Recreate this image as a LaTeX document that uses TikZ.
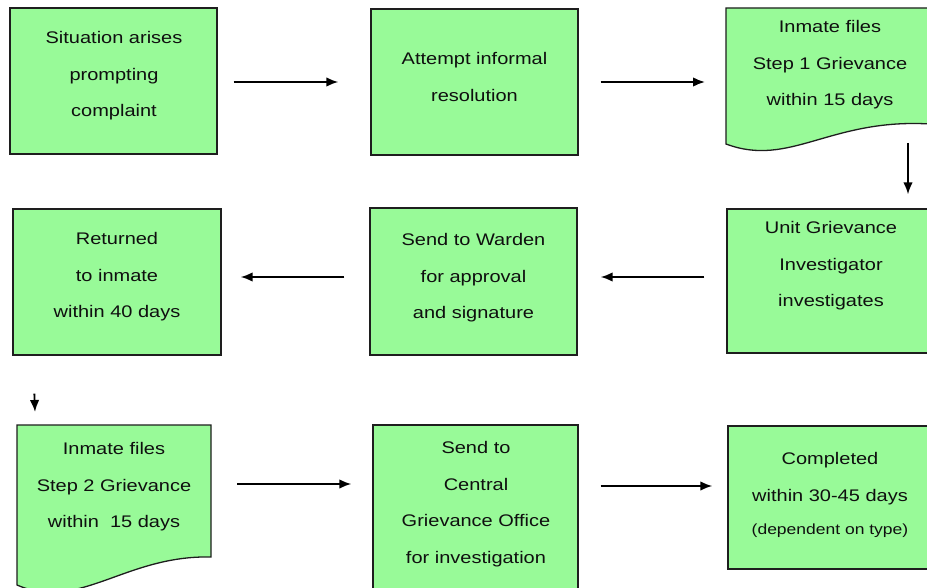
\documentclass[tikz,border=0pt]{standalone}
\usepackage{fontspec}
\setmainfont{Liberation Sans}[FakeStretch=1.19]
\usetikzlibrary{arrows.meta}
\definecolor{boxgreen}{RGB}{152,250,152}
\definecolor{edge}{RGB}{30,30,30}
\definecolor{ink}{RGB}{15,15,15}
\tikzset{
  stepbox/.style={draw=edge, line width=1.3pt, fill=boxgreen, rectangle, inner sep=0pt},
  docbox/.style={draw=edge, line width=1.3pt, fill=boxgreen},
  steptext/.style={align=center, font=\fontsize{16.8}{36.5}\selectfont, text=ink, inner sep=0pt},
  flow/.style={-{Latex[length=12pt,width=9.5pt]}, line width=1.8pt, draw=black},
}
\begin{document}
\begin{tikzpicture}[x=1pt,y=-1pt]
\useasboundingbox (0,0) rectangle (927,588);
\clip (0,0) rectangle (927,588);
\fill[white] (0,0) rectangle (927,588);

% ---- row 1 ----
\node[stepbox, minimum width=207pt, minimum height=146pt] (n1) at (113.5,81) {};
\node[steptext] (t1) at (114,76) {Situation arises\\prompting\\complaint};

\node[stepbox, minimum width=207pt, minimum height=146pt] (n2) at (474.5,82) {};
\node[steptext] (t2) at (474.5,77) {Attempt informal\\resolution};

% document shape with wavy lower edge
\coordinate (d3nw) at (726,8);
\coordinate (a34) at (908,143);
\path[docbox] (d3nw) -- (726,144) .. controls (790,168) and (830,118) .. (930,124)
  -- (930,8) -- cycle;
\node[steptext] (t3) at (830,65) {Inmate files\\Step 1 Grievance\\within 15 days};

% ---- row 2 ----
\node[stepbox, minimum width=203pt, minimum height=144pt] (n4) at (828.5,281) {};
\node[steptext] (t4) at (831,266) {Unit Grievance\\Investigator\\investigates};

\node[stepbox, minimum width=207pt, minimum height=147pt] (n5) at (473.5,281.5) {};
\node[steptext] (t5) at (473.5,278) {Send to Warden\\for approval\\and signature};

\node[stepbox, minimum width=208pt, minimum height=146pt] (n6) at (117,282) {};
\node[steptext] (t6) at (117,277) {Returned\\to inmate\\within 40 days};

% ---- row 3 ----
\coordinate (d7nw) at (17,425);
\coordinate (d7ne) at (211,425);
\path[docbox] (d7nw) -- (17,585) .. controls (79,612) and (125,555) .. (d7ne |- 0,557)
  -- (d7ne) -- cycle;
\node[steptext] (t7) at (114,487) {Inmate files\\Step 2 Grievance\\within~~15 days};

\node[stepbox, minimum width=205pt, minimum height=175pt] (n8) at (475.5,512.5) {};
\node[steptext] (t8) at (476,504) {Send to\\Central\\Grievance Office\\for investigation};

\node[stepbox, minimum width=202pt, minimum height=143pt] (n9) at (829,497.5) {};
\node[steptext] (t9) at (830,495) {Completed\\within 30-45 days\\[-3pt]{\fontsize{14.7}{30}\selectfont (dependent on type)}};

% ---- connectors ----
\draw[flow] ([shift={(16pt,-1pt)}]n1.east) -- ([xshift=-32pt]n2.west);
\draw[flow] ([xshift=22pt]n2.east) -- ([xshift=-21pt]d3nw |- n2.east);
\draw[flow] (a34) -- ([yshift=14pt]a34 |- n4.north);
\draw[flow] ([shift={(-22pt,4pt)}]n4.west) -- ([shift={(23pt,4.5pt)}]n5.east);
\draw[flow] ([shift={(-25pt,4.5pt)}]n5.west) -- ([shift={(19pt,5pt)}]n6.east);
\draw[flow] ([shift={(22pt,-38pt)}]n6.south west) -- ([shift={(18pt,13pt)}]d7nw);
\draw[flow] ([shift={(26pt,-59pt)}]d7ne) -- ([shift={(-21pt,28.5pt)}]n8.west);
\draw[flow] ([shift={(22pt,26.5pt)}]n8.east) -- ([shift={(-15pt,11.5pt)}]n9.west);
\end{tikzpicture}
\end{document}
